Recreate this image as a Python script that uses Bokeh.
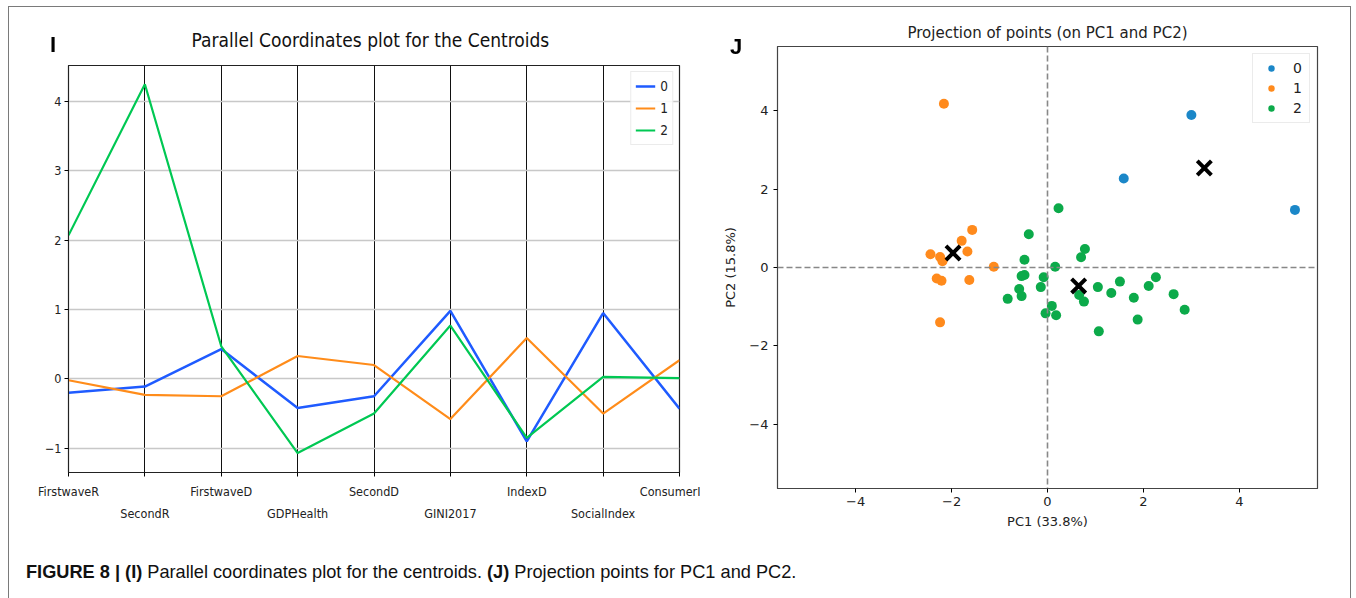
from bokeh.plotting import figure
from bokeh.models import (Range1d, FixedTicker, LinearAxis, Legend, LegendItem,
                          Span, Div)
from bokeh.layouts import row, column
from bokeh.embed import file_html
from bokeh.resources import INLINE

# ---------------- data ----------------
features = ["FirstwaveR", "SecondR", "FirstwaveD", "GDPHealth", "SecondD",
            "GINI2017", "IndexD", "SocialIndex", "ConsumerI"]
centroid_0 = [-0.20, -0.11, 0.43, -0.42, -0.25, 0.98, -0.90, 0.95, -0.43]
centroid_1 = [-0.02, -0.23, -0.25, 0.33, 0.20, -0.58, 0.59, -0.50, 0.27]
centroid_2 = [2.07, 4.25, 0.47, -1.07, -0.50, 0.77, -0.85, 0.03, 0.01]
par_yticks = [-1, 0, 1, 2, 3, 4]
par_yticklabels = ["\u22121", "0", "1", "2", "3", "4"]

pc1_c0 = [3.00, 1.59, 5.16]
pc2_c0 = [3.89, 2.27, 1.47]
pc1_c1 = [-2.16, -1.57, -1.79, -1.67, -2.44, -2.24, -2.19, -1.12, -2.31, -2.21, -1.63, -2.24]
pc2_c1 = [4.18, 0.96, 0.68, 0.41, 0.34, 0.27, 0.16, 0.02, -0.28, -0.34, -0.32, -1.40]
pc1_c2 = [0.23, -0.39, 0.78, 0.70, -0.48, 0.16, -0.48, -0.54, -0.08, 2.26, 1.51, 2.11, -0.14, 1.05,
          -0.59, 1.33, 2.63, -0.54, 0.66, -0.83, 1.80, 2.86, 1.88, 1.07, 0.76, 0.09, -0.04, 0.18]
pc2_c2 = [1.51, 0.85, 0.47, 0.26, 0.20, 0.02, -0.19, -0.22, -0.25, -0.25, -0.36, -0.47, -0.50, -0.50,
          -0.55, -0.65, -0.68, -0.73, -0.70, -0.80, -0.77, -1.08, -1.33, -1.63, -0.87, -0.98, -1.17, -1.22]
cent_pc1 = [3.27, -1.97, 0.65]
cent_pc2 = [2.54, 0.37, -0.47]
pca_ticks = [-4, -2, 0, 2, 4]
pca_ticklabels = ["\u22124", "\u22122", "0", "2", "4"]
cluster_labels = ["0", "1", "2"]

NARROW = "'Liberation Sans Narrow', 'DejaVu Sans Condensed', 'DejaVu Sans'"
DJV = "DejaVu Sans"

line_colors = ["#1f5bff", "#ff8c1a", "#00c853"]
dot_colors = ["#1b87c8", "#ff8a1c", "#0caa4a"]

# ---------------- left: parallel coordinates ----------------
idx = list(range(len(features)))
p1 = figure(width=700, height=535, x_range=Range1d(0, len(features) - 1),
            y_range=Range1d(-1.35, 4.52), output_backend="svg", toolbar_location=None,
            min_border_left=68, min_border_right=21, min_border_top=65, min_border_bottom=63)
p1.title.text = "Parallel Coordinates plot for the Centroids"
p1.title.align = "left"
p1.title.offset = 123
p1.title.text_font = NARROW
p1.title.text_font_size = "19px"
p1.title.text_font_style = "normal"
p1.title.text_color = "#111111"
p1.title.standoff = 29

p1.outline_line_color = "#222222"
p1.outline_line_width = 1.2

xa = p1.xaxis[0]
xa.ticker = FixedTicker(ticks=idx)
xa.major_label_overrides = {i: (f if i % 2 == 0 else "") for i, f in zip(idx, features)}
xa.axis_line_color = "#222222"
xa.major_tick_out = 4
xa.major_tick_in = 0
xa.minor_tick_line_color = None
xa.major_label_standoff = 7
xa.major_label_text_font = NARROW
xa.major_label_text_font_size = "12.5px"
xa.major_label_text_color = "#222222"

xb = LinearAxis(ticker=FixedTicker(ticks=[i for i in idx if i % 2 == 1]),
                major_label_overrides={i: f for i, f in zip(idx, features) if i % 2 == 1},
                axis_line_color=None, major_tick_line_color=None, minor_tick_line_color=None,
                major_tick_out=0, major_tick_in=0, major_label_standoff=4,
                major_label_text_font=NARROW, major_label_text_font_size="12.5px",
                major_label_text_color="#222222")
p1.add_layout(xb, "below")

ya = p1.yaxis[0]
ya.ticker = FixedTicker(ticks=par_yticks)
ya.major_label_overrides = dict(zip(par_yticks, par_yticklabels))
ya.axis_line_color = "#222222"
ya.major_tick_out = 4
ya.major_tick_in = 0
ya.minor_tick_line_color = None
ya.major_label_standoff = 3
ya.major_label_text_font = NARROW
ya.major_label_text_font_size = "12.5px"
ya.major_label_text_color = "#222222"

p1.xgrid.ticker = FixedTicker(ticks=idx)
p1.xgrid.grid_line_color = "#111111"
p1.xgrid.grid_line_width = 1
p1.ygrid.ticker = FixedTicker(ticks=par_yticks)
p1.ygrid.grid_line_color = "#c8c8c8"
p1.ygrid.grid_line_width = 1.5

r0 = p1.line(idx, centroid_0, line_color=line_colors[0], line_width=2.5)
r1 = p1.line(idx, centroid_1, line_color=line_colors[1], line_width=2.2)
r2 = p1.line(idx, centroid_2, line_color=line_colors[2], line_width=2.2)

leg1 = Legend(items=[LegendItem(label=cluster_labels[i], renderers=[r])
                     for i, r in enumerate([r0, r1, r2])],
              location="top_right", margin=6, padding=4, spacing=2,
              glyph_width=20, glyph_height=20, label_height=20, label_width=7,
              label_standoff=5,
              label_text_font=NARROW, label_text_font_size="13.5px",
              label_text_color="#222222",
              border_line_color="#d8d8d8", border_line_width=1,
              background_fill_alpha=0.85)
p1.add_layout(leg1)

# ---------------- right: PCA projection ----------------
p2 = figure(width=656, height=535, x_range=Range1d(-5.63, 5.63), y_range=Range1d(-5.64, 5.64),
            output_backend="svg", toolbar_location=None,
            min_border_left=77, min_border_right=39, min_border_top=46, min_border_bottom=47)
p2.title.text = "Projection of points (on PC1 and PC2)"
p2.title.align = "center"
p2.title.text_font = DJV
p2.title.text_font_size = "15px"
p2.title.text_font_style = "normal"
p2.title.text_color = "#222222"
p2.title.standoff = 9

p2.outline_line_color = "#444444"
p2.outline_line_width = 1.2
p2.grid.grid_line_color = None

for ax in (p2.xaxis[0], p2.yaxis[0]):
    ax.ticker = FixedTicker(ticks=pca_ticks)
    ax.major_label_overrides = dict(zip(pca_ticks, pca_ticklabels))
    ax.axis_line_color = "#444444"
    ax.major_tick_out = 4
    ax.major_tick_in = 0
    ax.minor_tick_line_color = None
    ax.major_label_text_font = DJV
    ax.major_label_text_font_size = "13px"
    ax.major_label_text_color = "#222222"
    ax.axis_label_text_font = DJV
    ax.axis_label_text_font_size = "13px"
    ax.axis_label_text_font_style = "normal"
    ax.axis_label_text_color = "#222222"
p2.xaxis[0].axis_label = "PC1 (33.8%)"
p2.yaxis[0].axis_label = "PC2 (15.8%)"
p2.xaxis[0].major_label_standoff = 4
p2.xaxis[0].axis_label_standoff = 5
p2.yaxis[0].major_label_standoff = 5
p2.yaxis[0].axis_label_standoff = 8

p2.add_layout(Span(location=0, dimension="height", line_color="#888888",
                   line_dash="6 3", line_width=1.6))
p2.add_layout(Span(location=0, dimension="width", line_color="#888888",
                   line_dash="6 3", line_width=1.6))

s0 = p2.scatter(pc1_c0, pc2_c0, size=10, fill_color=dot_colors[0], line_color=None)
s1 = p2.scatter(pc1_c1, pc2_c1, size=10, fill_color=dot_colors[1], line_color=None)
s2 = p2.scatter(pc1_c2, pc2_c2, size=10, fill_color=dot_colors[2], line_color=None)
p2.scatter(cent_pc1, cent_pc2, marker="x", size=20, line_color="#000000", line_width=4)

leg2 = Legend(items=[LegendItem(label=cluster_labels[i], renderers=[r])
                     for i, r in enumerate([s0, s1, s2])],
              location="top_right", margin=7, padding=6, spacing=4,
              glyph_width=24, glyph_height=16, label_height=16, label_width=10,
              label_standoff=10,
              label_text_font=DJV, label_text_font_size="14px",
              label_text_color="#222222",
              border_line_color="#d8d8d8", border_line_width=1,
              background_fill_alpha=0.85)
p2.add_layout(leg2)

# ---------------- caption, panel letters, frame ----------------
caption_html = (
    '<div style="position:fixed; left:8px; top:6px; width:1343px; height:640px; '
    'border:1.5px solid #7a7a7a; pointer-events:none;"></div>'
    '<div style="position:fixed; left:50px; top:29px; font-family:\'Liberation Sans\', Arial, sans-serif; '
    'font-weight:bold; font-size:22px; color:#000;">I</div>'
    '<div style="position:fixed; left:730px; top:31px; font-family:\'Liberation Sans\', Arial, sans-serif; '
    'font-weight:bold; font-size:22px; color:#000;">J</div>'
    '<div style="padding-left:21px; padding-top:19px; font-family:\'Liberation Sans\', Arial, sans-serif; '
    'font-size:18.2px; color:#111; white-space:nowrap;">'
    '<b>FIGURE 8 | (I)</b> Parallel coordinates plot for the centroids. '
    '<b>(J)</b> Projection points for PC1 and PC2.</div>'
)
cap = Div(text=caption_html, width=1356, height=63)

layout = column(row(column(p1), column(p2)), cap)
open("out.html", "w").write(file_html(layout, INLINE))
